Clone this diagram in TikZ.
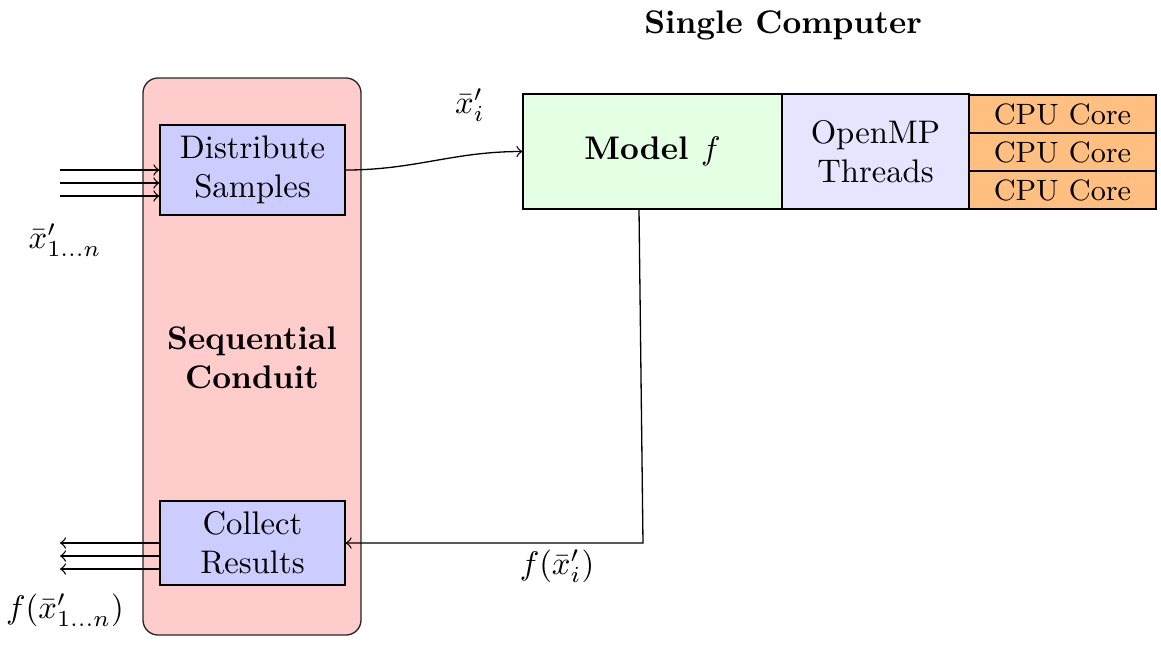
\documentclass[tikz,border=0pt]{standalone}
\begin{document}
\begin{tikzpicture}[x=0.306pt,y=-0.306pt,
  conduit/.style={draw=black!85, fill=red!20, rounded corners=4.6pt, inner sep=0pt},
  procbox/.style={draw, fill=blue!20, inner sep=0pt, align=center, minimum width=185*0.306pt},
  modelbox/.style={draw, fill=green!10, inner sep=0pt, align=center, minimum width=259*0.306pt, minimum height=115*0.306pt, font=\bfseries},
  ompbox/.style={draw, fill=blue!10, inner sep=0pt, align=center, minimum width=187*0.306pt, minimum height=115*0.306pt},
  corebox/.style={draw, fill=orange!50, inner sep=0pt, minimum width=187*0.306pt, minimum height=38*0.306pt, font=\small},
  mathlbl/.style={inner sep=1pt},
  conn/.style={->}
]
\useasboundingbox (0,0) rectangle (1161,646);
% conduit
\node[conduit, minimum width=218*0.306pt, minimum height=557*0.306pt] (cond) at (252,356.5) {};
\node[font=\bfseries, align=center] (condlbl) at (252,358) {Sequential\\Conduit};
\node[procbox, minimum height=90*0.306pt] (dist) at (252.5,170) {Distribute\\Samples};
\node[procbox, minimum height=84*0.306pt] (coll) at (252.5,543) {Collect\\Results};
% single computer
\node[font=\bfseries] (sc) at (783,25) {Single Computer};
\node[modelbox] (model) at (652.5,151.5) {Model $f$};
\node[ompbox] (omp) at (875.5,151.5) {OpenMP\\Threads};
\node[corebox] (c1) at (1062.5,114) {CPU Core};
\node[corebox] (c2) at (1062.5,152) {CPU Core};
\node[corebox] (c3) at (1062.5,190) {CPU Core};
% inputs
\coordinate (i1) at (60,170);
\coordinate (i2) at (60,183);
\coordinate (i3) at (60,196);
\draw[conn] (i1) -- (i1 -| dist.west);
\draw[conn] (i2) -- (i2 -| dist.west);
\draw[conn] (i3) -- (i3 -| dist.west);
\node[mathlbl] (inlbl) at (65,240) {$\bar{x}'_{1...n}$};
% outputs
\coordinate (o1) at (60,543);
\coordinate (o2) at (60,556);
\coordinate (o3) at (60,569);
\draw[conn] (o1 -| coll.west) -- (o1);
\draw[conn] (o2 -| coll.west) -- (o2);
\draw[conn] (o3 -| coll.west) -- (o3);
\node[mathlbl] (outlbl) at (65,610) {$f(\bar{x}'_{1...n})$};
% to model
\draw[conn] (dist.east) to[out=0,in=180] (model.west);
\node[mathlbl] (xilbl) at (470,105) {$\bar{x}'_i$};
% return
\coordinate (r1) at (639,209);
\coordinate (r2) at (643,543);
\draw[conn] (r1) -- (r2) -- (coll.east);
\node[mathlbl] (fxlbl) at (557,566) {$f(\bar{x}'_i)$};
\end{tikzpicture}
\end{document}
